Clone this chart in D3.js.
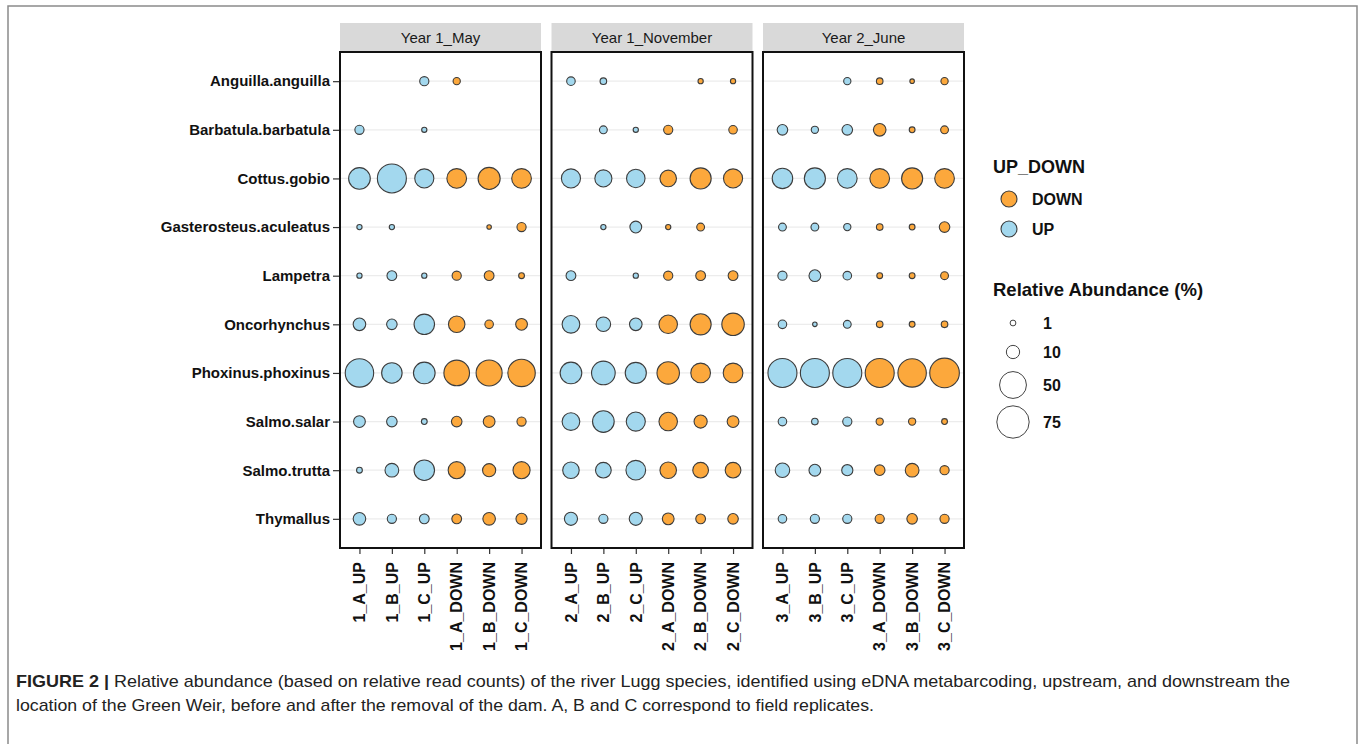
<!DOCTYPE html>
<html>
<head>
<meta charset="utf-8">
<script src="https://cdn.jsdelivr.net/npm/d3@7"></script>
<style>
  body { margin: 0; background: #fff; }
  svg text { font-family: Arial, "Liberation Sans", sans-serif; }
</style>
</head>
<body>
<svg id="chart" width="1360" height="744"></svg>
<script>
// species on the y axis (top to bottom)
const species = ["Anguilla.anguilla", "Barbatula.barbatula", "Cottus.gobio", "Gasterosteus.aculeatus",
    "Lampetra", "Oncorhynchus", "Phoxinus.phoxinus", "Salmo.salar", "Salmo.trutta", "Thymallus"];

const panels = ["Year 1_May", "Year 1_November", "Year 2_June"];

const samplesMay = ["1_A_UP", "1_B_UP", "1_C_UP", "1_A_DOWN", "1_B_DOWN", "1_C_DOWN"];
const samplesNov = ["2_A_UP", "2_B_UP", "2_C_UP", "2_A_DOWN", "2_B_DOWN", "2_C_DOWN"];
const samplesJun = ["3_A_UP", "3_B_UP", "3_C_UP", "3_A_DOWN", "3_B_DOWN", "3_C_DOWN"];

// relative abundance (%), one row per species, one column per sample; null = not detected
const abundMay = [
    [null, null, 3.9, 2.0, null, null],
    [3.9, null, 0.7, null, null, null],
    [31, 59, 23.3, 25, 32.3, 25],
    [0.7, 0.7, null, null, 0.4, 3.9],
    [0.7, 4.6, 0.7, 3.9, 4.6, 1.0],
    [8.7, 5.6, 27.3, 16.7, 3.2, 7.4],
    [56.5, 27.3, 31, 45, 46.6, 52.3],
    [7.4, 5.6, 1.0, 5.6, 7.4, 3.9],
    [1.0, 10.8, 27.3, 18.1, 9.7, 18.1],
    [8.7, 3.9, 4.6, 4.6, 8.7, 6.5]
];
const abundNov = [
    [3.2, 1.5, null, null, 0.7, 0.7],
    [null, 2.5, 0.7, 3.9, null, 3.2],
    [23.3, 18.1, 21.7, 16.7, 29.2, 23.3],
    [null, 0.7, 7.4, 0.7, 2.5, null],
    [4.6, null, 0.7, 3.9, 4.6, 4.6],
    [19.6, 12.3, 8.7, 21.7, 29.2, 33.6],
    [31, 37.7, 29.2, 33.6, 25, 25],
    [19.6, 31, 23.3, 21.7, 9.7, 7.4],
    [16.7, 14.9, 25, 16.7, 14.9, 14.9],
    [9.7, 3.9, 9.7, 7.4, 4.6, 5.6]
];
const abundJun = [
    [null, null, 2.0, 1.5, 0.4, 2.0],
    [5.6, 2.0, 5.6, 8.7, 1.0, 2.5],
    [27.3, 29.2, 25, 25, 29.2, 25],
    [2.5, 2.5, 2.0, 1.5, 1.0, 5.6],
    [3.9, 7.4, 3.2, 1.0, 1.0, 2.5],
    [3.2, 0.4, 2.5, 1.5, 1.0, 1.5],
    [59, 59, 59, 59, 56.5, 61.7],
    [3.2, 1.5, 3.9, 2.0, 2.0, 1.0],
    [12.3, 7.4, 6.5, 5.6, 10.8, 3.9],
    [3.2, 3.9, 3.9, 3.9, 5.6, 3.9]
];

const groups = ["DOWN", "UP"];
const sizeBreaks = [1, 10, 50, 75];

const captionBold = "FIGURE 2 |";
const captionLines = [
    " Relative abundance (based on relative read counts) of the river Lugg species, identified using eDNA metabarcoding, upstream, and downstream the",
    "location of the Green Weir, before and after the removal of the dam. A, B and C correspond to field replicates."
];

const panelSamples = [samplesMay, samplesNov, samplesJun];
const panelValues = [abundMay, abundNov, abundJun];

const svg = d3.select("#chart");

// outer figure frame
svg.append("rect")
    .attr("x", 8).attr("y", 6)
    .attr("width", 1349).attr("height", 760)
    .attr("fill", "none").attr("stroke", "#8a8a8a").attr("stroke-width", 1.5);

const panelTop = 52, panelBottom = 548;
const panelLeft = 340, panelW = 201, panelGap = 10.5;
const stripH = 29;

const y = d3.scalePoint().domain(species).range([panelTop, panelBottom]).padding(0.6);
const r = d3.scaleSqrt().domain([1, 75]).range([2.9, 16.2]);
const color = d3.scaleOrdinal().domain(groups).range(["#fca83c", "#a3d8ee"]);

panels.forEach((name, p) => {
    const x0 = panelLeft + p * (panelW + panelGap);
    const x = d3.scalePoint().domain(panelSamples[p]).range([x0, x0 + panelW]).padding(0.6);
    const g = svg.append("g").attr("class", "panel");

    // strip
    g.append("rect")
        .attr("x", x0).attr("y", panelTop - stripH)
        .attr("width", panelW).attr("height", stripH)
        .attr("fill", "#d9d9d9");
    g.append("text")
        .attr("x", x0 + panelW / 2).attr("y", panelTop - stripH / 2)
        .attr("dy", "0.35em")
        .attr("text-anchor", "middle")
        .attr("font-size", 15)
        .attr("fill", "#1a1a1a")
        .text(name);

    // horizontal grid
    g.append("g")
        .selectAll("line")
        .data(species)
        .join("line")
        .attr("x1", x0).attr("x2", x0 + panelW)
        .attr("y1", d => y(d)).attr("y2", d => y(d))
        .attr("stroke", "#ececec").attr("stroke-width", 1.2);

    // points
    const pts = [];
    panelValues[p].forEach((row, i) => row.forEach((v, j) => {
        if (v != null) pts.push({sp: species[i], sample: panelSamples[p][j], v: v,
            grp: panelSamples[p][j].endsWith("DOWN") ? "DOWN" : "UP"});
    }));
    g.append("g")
        .selectAll("circle")
        .data(pts)
        .join("circle")
        .attr("cx", d => x(d.sample))
        .attr("cy", d => y(d.sp))
        .attr("r", d => r(d.v))
        .attr("fill", d => color(d.grp))
        .attr("stroke", "#3c3c3c")
        .attr("stroke-width", 1.1);

    // panel border
    g.append("rect")
        .attr("x", x0).attr("y", panelTop)
        .attr("width", panelW).attr("height", panelBottom - panelTop)
        .attr("fill", "none").attr("stroke", "#111").attr("stroke-width", 2);

    // x axis
    const gx = g.append("g").attr("transform", `translate(0,${panelBottom + 1})`)
        .call(d3.axisBottom(x).tickSize(5).tickSizeOuter(0).tickFormat(""));
    gx.select(".domain").remove();
    gx.selectAll("line").attr("stroke", "#333").attr("stroke-width", 1.2);
    g.append("g")
        .selectAll("text")
        .data(panelSamples[p])
        .join("text")
        .attr("transform", d => `translate(${x(d)},${panelBottom + 14}) rotate(-90)`)
        .attr("dy", "0.36em")
        .attr("text-anchor", "end")
        .attr("font-size", 16)
        .attr("font-weight", "bold")
        .attr("fill", "#111")
        .text(d => d);
});

// y axis on the first panel
const gy = svg.append("g").attr("transform", `translate(${panelLeft - 1},0)`)
    .call(d3.axisLeft(y).tickSize(6).tickSizeOuter(0).tickPadding(3));
gy.select(".domain").remove();
gy.selectAll("line").attr("stroke", "#333").attr("stroke-width", 1.2);
gy.selectAll("text")
    .attr("font-size", 15)
    .attr("font-weight", "bold")
    .attr("fill", "#111")
    .style("font-family", "Arial, 'Liberation Sans', sans-serif");

// legends
const lg = svg.append("g").attr("transform", "translate(993,0)");
lg.append("text").attr("x", 0).attr("y", 173)
    .attr("font-size", 18).attr("font-weight", "bold").attr("fill", "#111")
    .text("UP_DOWN");
groups.forEach((d, i) => {
    lg.append("circle").attr("cx", 16).attr("cy", 199 + i * 30).attr("r", 8)
        .attr("fill", color(d)).attr("stroke", "#3c3c3c").attr("stroke-width", 1.1);
    lg.append("text").attr("x", 39).attr("y", 199 + i * 30).attr("dy", "0.36em")
        .attr("font-size", 16).attr("font-weight", "bold").attr("fill", "#111")
        .text(d);
});

lg.append("text").attr("x", 0).attr("y", 296)
    .attr("font-size", 18.5).attr("font-weight", "bold").attr("fill", "#111")
    .text("Relative Abundance (%)");
const sizeY = [323, 352, 385, 422];
sizeBreaks.forEach((d, i) => {
    lg.append("circle").attr("cx", 20).attr("cy", sizeY[i]).attr("r", r(d))
        .attr("fill", "#fff").attr("stroke", "#444").attr("stroke-width", 1);
    lg.append("text").attr("x", 50).attr("y", sizeY[i]).attr("dy", "0.36em")
        .attr("font-size", 16).attr("font-weight", "bold").attr("fill", "#111")
        .text(d);
});

// caption
const cap = svg.append("g").attr("class", "caption");
const line1 = cap.append("text").attr("x", 16).attr("y", 687)
    .attr("font-size", 17).attr("fill", "#222")
    .attr("textLength", 1274).attr("lengthAdjust", "spacingAndGlyphs");
line1.append("tspan").attr("font-weight", "bold").text(captionBold);
line1.append("tspan").text(captionLines[0]);
cap.append("text").attr("x", 16).attr("y", 711)
    .attr("font-size", 17).attr("fill", "#222")
    .attr("textLength", 858).attr("lengthAdjust", "spacingAndGlyphs")
    .text(captionLines[1]);
</script>
</body>
</html>
